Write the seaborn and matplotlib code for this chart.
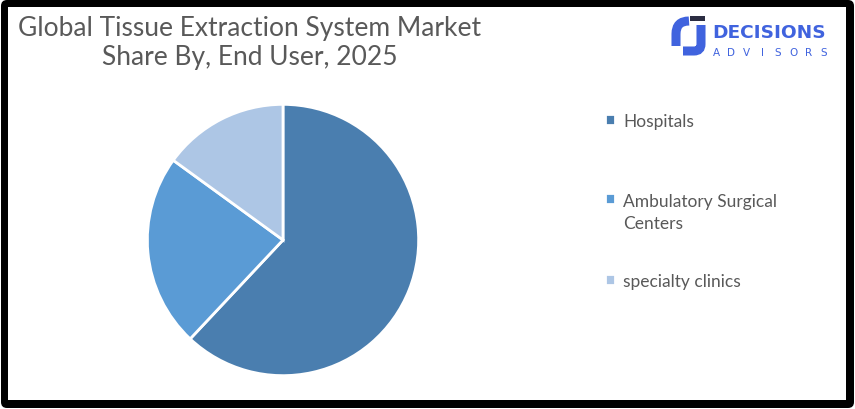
import numpy as np
import matplotlib
matplotlib.use("Agg")
import matplotlib.pyplot as plt
import seaborn as sns
from matplotlib.patches import Rectangle, FancyBboxPatch, PathPatch
from matplotlib.path import Path

# data
segments = ["Hospitals", "Ambulatory Surgical\nCenters", "specialty clinics"]
shares = [62, 23, 15]
colors = ["#4A7EAF", "#5A9BD5", "#ADC6E5"]

title = "Global Tissue Extraction System Market\nShare By, End User, 2025"
text_grey = "#595959"
logo_blue = "#4063DE"

sns.set_theme(style="white")
plt.rcParams["font.family"] = ["Lato", "DejaVu Sans"]

W, H = 855, 410
fig = plt.figure(figsize=(W / 100, H / 100), dpi=100)
fig.patch.set_facecolor("white")

# background axes in pixel coordinates: frame, title, logo
bg = fig.add_axes([0, 0, 1, 1])
bg.set_xlim(0, W)
bg.set_ylim(H, 0)
bg.axis("off")
bg.add_patch(FancyBboxPatch((1, 1), W - 2, H - 2, boxstyle="round,pad=0,rounding_size=6",
                            facecolor="black", edgecolor="none"))
bg.add_patch(Rectangle((8, 8), 838, 393, facecolor="white", edgecolor="none"))

bg.text(250, 43, title, ha="center", va="center", fontsize=19, color=text_grey,
        linespacing=1.22)

# logo
bg.add_patch(Rectangle((690, 17), 15, 5, facecolor="#2B2D42", edgecolor="none"))
left = Path([(689, 22), (676, 22), (676, 35), (676, 47)],
            [Path.MOVETO, Path.CURVE3, Path.CURVE3, Path.LINETO])
right = Path([(701, 26), (701, 45), (701, 52), (694, 52), (683, 52)],
             [Path.MOVETO, Path.LINETO, Path.CURVE3, Path.CURVE3, Path.LINETO])
for p in (left, right):
    bg.add_patch(PathPatch(p, fill=False, edgecolor=logo_blue, linewidth=6.5, capstyle="butt"))
bg.text(712, 37.5, "DECISIONS", fontsize=13.3, fontweight="bold", color=logo_blue,
        family="DejaVu Sans", va="baseline")
for x, ch in zip(np.linspace(716, 824, 8), "ADVISORS"):
    bg.text(x, 52.5, ch, fontsize=7.5, color=logo_blue, family="DejaVu Sans",
            ha="center", va="center")

# pie
cx, cy, r = 283, 241, 137
ax = fig.add_axes([(cx - r) / W, (H - cy - r) / H, 2 * r / W, 2 * r / H])
wedges, _ = ax.pie(shares, colors=colors, startangle=90, counterclock=False, radius=1,
                   wedgeprops=dict(edgecolor="white", linewidth=2))
ax.set_xlim(-1.01, 1.01)
ax.set_ylim(-1.01, 1.01)
ax.set_aspect("equal")

# one legend entry per segment so the rows sit where the reference has them
for w, label, top in zip(wedges, segments, [114, 194, 274]):
    leg = fig.legend([w], [label], loc="upper left", bbox_to_anchor=(605 / W, 1 - top / H),
                     frameon=False, fontsize=12.5, handlelength=0.6, handleheight=0.6,
                     handletextpad=0.45, borderaxespad=0, borderpad=0)
    for t in leg.get_texts():
        t.set_color(text_grey)
        t.set_linespacing(1.45)
    if "\n" in label:
        # keep the square next to the first line, as in the reference
        for col in leg._legend_handle_box.get_children():
            for item in col.get_children():
                item.align = "top"

fig.savefig("out.png", dpi=100)
